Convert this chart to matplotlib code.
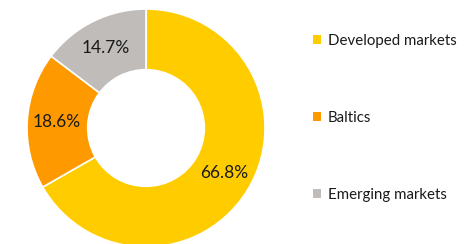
import matplotlib
matplotlib.use("Agg")
import matplotlib.pyplot as plt
import numpy as np

categories = ["Developed markets", "Baltics", "Emerging markets"]
values = [66.8, 18.6, 14.7]
labels = ["66.8%", "18.6%", "14.7%"]
colors = ["#FFCC00", "#FF9900", "#BFBCB9"]

plt.rcParams['font.family'] = ['Lato', 'DejaVu Sans']

W, H = 473, 244
fig = plt.figure(figsize=(W / 100, H / 100), dpi=100)
cx, cy, r = 146, 128, 119
ax = fig.add_axes([(cx - r) / W, (H - cy - r) / H, 2 * r / W, 2 * r / H])
wedges, _ = ax.pie(values, colors=colors, startangle=90, counterclock=False,
                   radius=1.0, wedgeprops=dict(width=0.51, edgecolor="white", linewidth=1.2))
for w, lab in zip(wedges, labels):
    ang = np.deg2rad((w.theta1 + w.theta2) / 2)
    rr = 0.755
    ax.text(rr * np.cos(ang), rr * np.sin(ang), lab, ha="center", va="center",
            fontsize=12.5, color="#1a1a1a")
ax.set_xlim(-1, 1)
ax.set_ylim(-1, 1)
ax.set_aspect("equal")
ax.axis("off")

leg = fig.legend(wedges, categories, loc="upper left",
                 bbox_to_anchor=(307 / W, 1 - 28 / H), frameon=False,
                 fontsize=10.8, handlelength=0.55, handleheight=0.55,
                 handletextpad=0.45, labelspacing=4.2, borderaxespad=0)
for t in leg.get_texts():
    t.set_color("#1a1a1a")
for h in leg.legend_handles:
    h.set_edgecolor("none")

fig.savefig("out.png", dpi=100)
